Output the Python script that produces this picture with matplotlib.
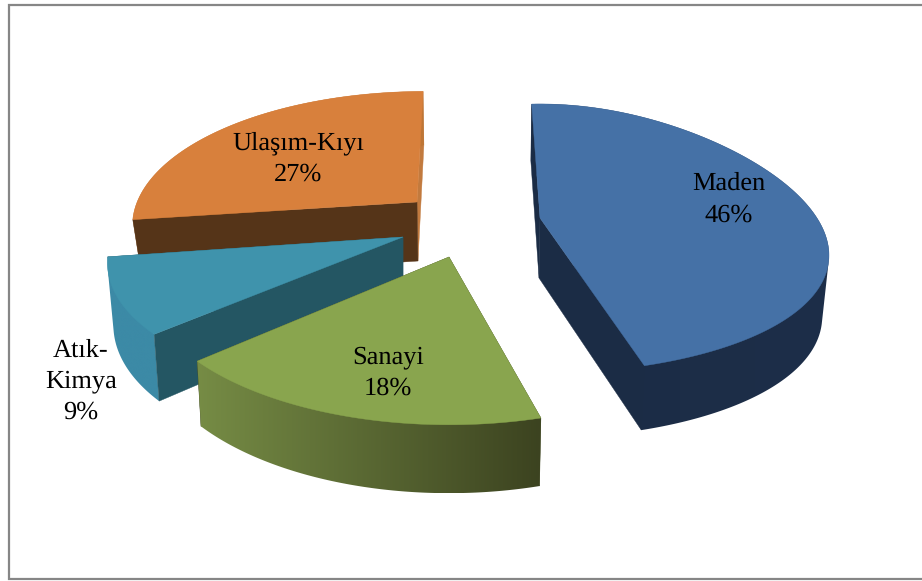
import numpy as np
import matplotlib
matplotlib.use("Agg")
import matplotlib.pyplot as plt
from matplotlib.patches import Polygon
from matplotlib.colors import to_rgb

plt.rcParams["text.hinting"] = "none"

categories = ["Maden", "Sanayi", "Atık-\nKimya", "Ulaşım-Kıyı"]
values = [46, 18, 9, 27]

top_colors = ["#4571A6", "#89A54E", "#3F93AC", "#D8803C"]
cut_colors = ["#1B2C45", "#3F4620", "#245663", "#553418"]
far_cut_colors = ["#1B2C45", "#3F4620", "#245663", "#C27A3E"]
rim_left = ["#1B2C45", "#768C45", "#3C8AA6", "#BE7636"]
rim_right = ["#1D2E49", "#3C4320", "#3C8AA6", "#BE7636"]

# slice geometry: apex, angle offset, scales, shear, perspective, apex depth, bottom-face scales
geometry = [
    dict(apex=(540, 218), off=-2.5, sx=0.955, sy=0.99, shear=0.0, kx=0.31, bot=(-1, 60), bx=0.98, by=1.03, cut_over=True),
    dict(apex=(449, 257), off=-1.0, sx=1.04, sy=1.07, shear=0.0, kx=0.153, bot=(0, 60), bx=0.985, by=1.05, cut_over=False),
    dict(apex=(403, 237), off=-1.0, sx=1.0, sy=1.0, shear=0.0, kx=0.2, bot=(0, 60), bx=0.98, by=1.07, cut_over=True),
    dict(apex=(417, 202), off=-0.4, sx=0.965, sy=0.96, shear=-0.07, kx=0.153, bot=(1, 59), bx=0.97, by=1.05, cut_over=True),
]
label_pos = [(729, 199.5), (388, 373), (81, 381.5), (298, 159)]
draw_order = [3, 2, 1, 0]

RX, RY, K = 290.0, 136.0, 0.153


def project(phi_deg, g, bottom=False):
    phi = np.radians(phi_deg)
    u, v = np.sin(phi), -np.cos(phi)
    dx = RX * g["sx"] * u * (1 + g["kx"] * v)
    dy = RY * g["sy"] * v * (1 + K * v)
    dx = dx + g["shear"] * dy
    ax_, ay_ = g["apex"]
    if bottom:
        return ax_ + g["bot"][0] + g["bx"] * dx, ay_ + g["bot"][1] + g["by"] * dy
    return ax_ + dx, ay_ + dy


def hull(points):
    pts = sorted(set(map(tuple, points)))

    def half(seq):
        out = []
        for p in seq:
            while len(out) >= 2 and (out[-1][0] - out[-2][0]) * (p[1] - out[-2][1]) - (out[-1][1] - out[-2][1]) * (p[0] - out[-2][0]) <= 0:
                out.pop()
            out.append(p)
        return out[:-1]

    return np.array(half(pts) + half(pts[::-1]))


fig = plt.figure(figsize=(9.22, 5.81), dpi=100)
ax = fig.add_axes([0, 0, 1, 1])
ax.axis("off")

# chart frame
ax.plot([922, 8.5, 8.5, 922], [4.5, 4.5, 579, 579], color="#868686", lw=1.6, solid_joinstyle="miter")

fractions = np.array(values, dtype=float) / sum(values)
edges = np.concatenate([[0], np.cumsum(fractions) * 360])

for n, i in enumerate(draw_order):
    g = geometry[i]
    z = 10 + n * 10
    a0, a1 = edges[i] + g["off"], edges[i + 1] + g["off"]
    phis = np.linspace(a0, a1, int((a1 - a0) * 2) + 2)
    tx, ty = project(phis, g)
    bx, by = project(phis, g, bottom=True)
    ap = np.array(g["apex"], float)
    apb = ap + np.array(g["bot"], float)

    # cut walls
    ax.fill([tx[-1], ap[0], apb[0], bx[-1]], [ty[-1], ap[1], apb[1], by[-1]],
            color=far_cut_colors[i], lw=0.3, zorder=z + 3 if g["cut_over"] and i == 0 else z)
    ax.fill([tx[0], ap[0], apb[0], bx[0]], [ty[0], ap[1], apb[1], by[0]],
            color=cut_colors[i], lw=0.3, zorder=z + 3 if g["cut_over"] else z + 1)

    # outer wall with horizontal gradient, clipped to its silhouette
    outline = hull(np.r_[np.c_[tx, ty], np.c_[bx, by]])
    xmin, xmax = outline[:, 0].min(), outline[:, 0].max()
    ymin, ymax = outline[:, 1].min(), outline[:, 1].max()
    ramp = np.linspace(0, 1, 256)[None, :, None]
    c0, c1 = np.array(to_rgb(rim_left[i])), np.array(to_rgb(rim_right[i]))
    img = c0[None, None, :] + (c1 - c0)[None, None, :] * ramp
    clip = Polygon(outline, closed=True, transform=ax.transData, facecolor="none", edgecolor="none")
    ax.add_patch(clip)
    im = ax.imshow(img, extent=(xmin, xmax, ymax, ymin), aspect="auto", interpolation="bilinear", zorder=z + 2)
    im.set_clip_path(clip)

    # top face
    ax.fill(np.r_[ap[0], tx], np.r_[ap[1], ty], color=top_colors[i], lw=0.3, zorder=z + 4)

    ax.text(label_pos[i][0], label_pos[i][1], f"{categories[i]}\n{values[i]}%", ha="center", va="center",
            family="Liberation Serif", fontsize=19, color="black", linespacing=1.43, zorder=100)

ax.set_xlim(0, 922)
ax.set_ylim(581, 0)
fig.savefig("out.png", dpi=100)
